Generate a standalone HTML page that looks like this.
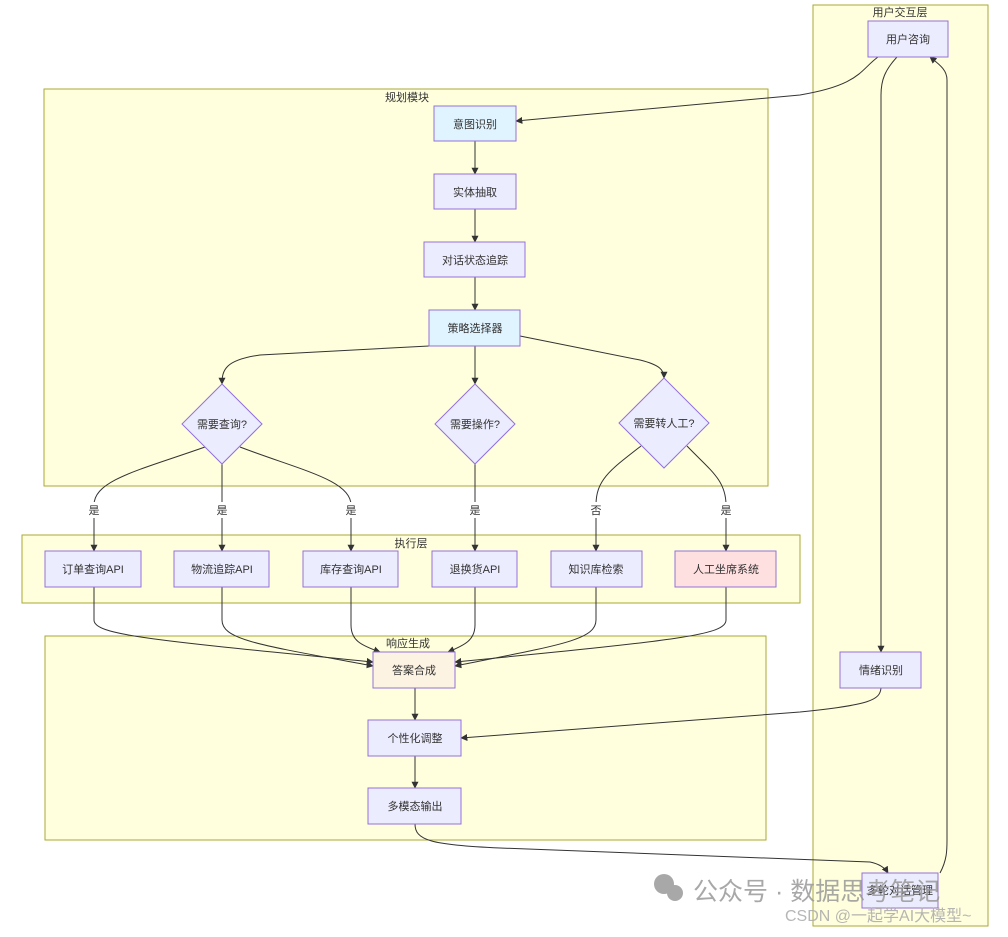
<!DOCTYPE html>
<html><head><meta charset="utf-8"><style>
body{margin:0;background:#fff}
svg text{font-family:"Liberation Sans","Noto Sans CJK SC",sans-serif;font-size:11px;fill:#333}
</style></head><body>
<svg width="1008" height="932" viewBox="0 0 1008 932" xmlns="http://www.w3.org/2000/svg">
<defs><marker id="a" viewBox="0 0 10 10" refX="9" refY="5" markerWidth="7" markerHeight="7" orient="auto"><path d="M0,0L10,5L0,10z" fill="#333"/></marker></defs>
<g fill="#ffffde" stroke="#aaaa33" stroke-width="1">
<rect x="813" y="5" width="175" height="921"/>
<rect x="44" y="89" width="724" height="397"/>
<rect x="22" y="535" width="778" height="68"/>
<rect x="45" y="636" width="721" height="204"/>
</g>
<g text-anchor="middle">
<text x="900" y="16">用户交互层</text>
<text x="407" y="101">规划模块</text>
<text x="411" y="547">执行层</text>
<text x="408" y="647">响应生成</text>
</g>
<g fill="none" stroke="#333" stroke-width="1" marker-end="url(#a)">
<path d="M878,57 C860,70 860,85 800,95 L516,121"/>
<path d="M897,57 C885,70 881,80 881,95 L881,652"/>
<path d="M940,873 C947,860 947,850 947,840 L947,80 C947,70 940,65 930,57"/>
<path d="M881,688 C880,700 870,705 800,712 L461,738"/>
<path d="M415,824 C415,840 430,845 500,848 L870,862 C880,864 885,868 888,873"/>
<path d="M475,141 L475,174"/>
<path d="M475,209 L475,242"/>
<path d="M475,277 L475,310"/>
<path d="M429,346 L260,355 C225,360 222,370 222,384"/>
<path d="M475,346 L475,384"/>
<path d="M520,336 L640,360 C660,365 664,370 664,378"/>
<path d="M205,447 C140,470 94,480 94,505 L94,551"/>
<path d="M222,464 L222,551"/>
<path d="M240,447 C300,470 351,480 351,505 L351,551"/>
<path d="M475,464 L475,551"/>
<path d="M641,446 C610,470 596,480 596,505 L596,551"/>
<path d="M687,446 C710,470 726,480 726,505 L726,551"/>
<path d="M94,587 L94,620 C94,635 150,640 373,662"/>
<path d="M222,587 L222,620 C222,640 260,645 373,666"/>
<path d="M351,587 L351,625 C351,640 360,645 380,652"/>
<path d="M475,587 L475,625 C475,640 465,645 448,652"/>
<path d="M596,587 L596,620 C596,640 560,645 455,666"/>
<path d="M726,587 L726,620 C726,635 680,640 455,662"/>
<path d="M415,688 L415,720"/>
<path d="M415,756 L415,788"/>
</g>
<g stroke="#9370db" stroke-width="1">
<rect x="868" y="21" width="80" height="36" fill="#ececff"/>
<rect x="434" y="106" width="82" height="35" fill="#e0f4ff"/>
<rect x="434" y="174" width="82" height="35" fill="#ececff"/>
<rect x="424" y="242" width="101" height="35" fill="#ececff"/>
<rect x="429" y="310" width="91" height="36" fill="#e0f4ff"/>
<polygon points="222,384 262,424 222,464 182,424" fill="#ececff"/>
<polygon points="475,384 515,424 475,464 435,424" fill="#ececff"/>
<polygon points="664,378 709,423 664,468 619,423" fill="#ececff"/>
<rect x="45" y="551" width="96" height="36" fill="#ececff"/>
<rect x="174" y="551" width="95" height="36" fill="#ececff"/>
<rect x="303" y="551" width="95" height="36" fill="#ececff"/>
<rect x="432" y="551" width="85" height="36" fill="#ececff"/>
<rect x="551" y="551" width="91" height="36" fill="#ececff"/>
<rect x="675" y="551" width="101" height="36" fill="#ffe0e0"/>
<rect x="373" y="652" width="82" height="36" fill="#fdf3e3"/>
<rect x="368" y="720" width="93" height="36" fill="#ececff"/>
<rect x="368" y="788" width="93" height="36" fill="#ececff"/>
<rect x="840" y="652" width="81" height="36" fill="#ececff"/>
<rect x="862" y="873" width="76" height="35" fill="#ececff"/>
</g>
<g fill="#ffffff">
<rect x="84" y="502" width="20" height="16"/><rect x="212" y="502" width="20" height="16"/>
<rect x="341" y="502" width="20" height="16"/><rect x="465" y="502" width="20" height="16"/>
<rect x="586" y="502" width="20" height="16"/><rect x="716" y="502" width="20" height="16"/>
</g>
<g text-anchor="middle">
<text x="94" y="514">是</text><text x="222" y="514">是</text><text x="351" y="514">是</text>
<text x="475" y="514">是</text><text x="596" y="514">否</text><text x="726" y="514">是</text>
<text x="908" y="43">用户咨询</text>
<text x="475" y="128">意图识别</text>
<text x="475" y="196">实体抽取</text>
<text x="475" y="264">对话状态追踪</text>
<text x="475" y="332">策略选择器</text>
<text x="222" y="428">需要查询?</text>
<text x="475" y="428">需要操作?</text>
<text x="664" y="427">需要转人工?</text>
<text x="93" y="573">订单查询API</text>
<text x="222" y="573">物流追踪API</text>
<text x="351" y="573">库存查询API</text>
<text x="475" y="573">退换货API</text>
<text x="596" y="573">知识库检索</text>
<text x="726" y="573">人工坐席系统</text>
<text x="414" y="674">答案合成</text>
<text x="415" y="742">个性化调整</text>
<text x="415" y="810">多模态输出</text>
<text x="881" y="674">情绪识别</text>
<text x="900" y="894">多轮对话管理</text>
</g>
<g fill="#999" opacity="0.85">
<circle cx="664" cy="884" r="10"/><circle cx="675" cy="893" r="8"/>
<text x="693" y="900" style="font-size:25px;fill:#999">公众号 · 数据思考笔记</text>
<text x="785" y="921" style="font-size:16px;fill:#aaa">CSDN @一起学AI大模型~</text>
</g>
</svg>
</body></html>
